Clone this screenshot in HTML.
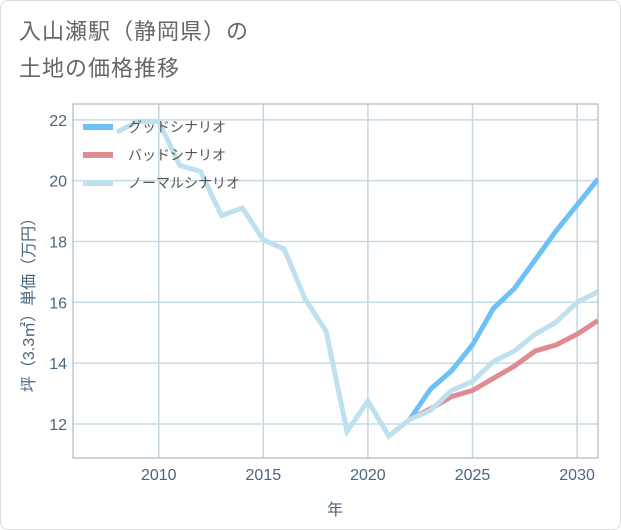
<!DOCTYPE html>
<html><head><meta charset="utf-8"><style>
body{margin:0;background:#fff;}
#card{position:absolute;left:0;top:0;width:619px;height:528px;border:1px solid #ddd;border-radius:8px;background:#fff;overflow:hidden;}
#title{position:absolute;left:18px;top:12px;font:22px "Liberation Sans","Noto Sans CJK JP",sans-serif;color:#666;line-height:37px;letter-spacing:1px;}
svg text{font-family:"Liberation Sans","Noto Sans CJK JP",sans-serif;}
</style></head><body>
<div id="card">
<div id="title">入山瀬駅（静岡県）の<br>土地の価格推移</div>
<svg id="chart" width="621" height="530" style="position:absolute;left:0;top:0"></svg>
</div>
<script>
const years=[2008,2009,2010,2011,2012,2013,2014,2015,2016,2017,2018,2019,2020,2021,2022,2023,2024,2025,2026,2027,2028,2029,2030,2031];
const normal=[21.6,21.95,21.95,20.5,20.3,18.85,19.1,18.05,17.75,16.1,15.05,11.75,12.75,11.6,12.15,12.45,13.1,13.4,14.05,14.4,14.95,15.35,16.0,16.35];
const futureYears=[2022,2023,2024,2025,2026,2027,2028,2029,2030,2031];
const good=[12.15,13.15,13.75,14.6,15.8,16.45,17.4,18.35,19.2,20.05];
const bad=[12.15,12.5,12.9,13.1,13.5,13.9,14.4,14.6,14.95,15.4];
const xTicks=[2010,2015,2020,2025,2030];
const yTicks=[12,14,16,18,20,22];
const legendLabels=["グッドシナリオ","バッドシナリオ","ノーマルシナリオ"];
const L=72,R=597,T=103,B=457,X0=2005.9,X1=2031,Y0=10.88,Y1=22.52;
const sx=v=>L+(v-X0)/(X1-X0)*(R-L);
const sy=v=>B-(v-Y0)/(Y1-Y0)*(B-T);
const svg=document.getElementById('chart');const NS='http://www.w3.org/2000/svg';
function mk(t,a,p){const e=document.createElementNS(NS,t);for(const k in a)e.setAttribute(k,a[k]);(p||svg).appendChild(e);return e;}
const clip=mk('clipPath',{id:'c'});mk('rect',{x:L,y:T,width:R-L,height:B-T},clip);
xTicks.forEach(v=>{const g=mk('line',{x1:sx(v),x2:sx(v),y1:T,y2:B,stroke:'#c5d5e2','stroke-width':1.5});


const t=mk('text',{x:sx(v),y:479,'text-anchor':'middle','font-size':16,fill:'#4a6580'});t.textContent=v;

});
yTicks.forEach(v=>{const g=mk('line',{x1:L,x2:R,y1:sy(v),y2:sy(v),stroke:'#c5dbe8','stroke-width':1.5});


const t=mk('text',{x:66,y:sy(v)+6,'text-anchor':'end','font-size':16,fill:'#4a6580'});t.textContent=v;

});
const fr=mk('rect',{x:L,y:T,width:R-L,height:B-T,fill:'none',stroke:'#aab8c4','stroke-width':1.2});


function line(xs,ys,col,name){const p=mk('polyline',{points:xs.map((x,i)=>sx(x)+','+sy(ys[i])).join(' '),fill:'none',stroke:col,'stroke-width':5,'stroke-linejoin':'miter','clip-path':'url(#c)'});

}
line(futureYears,good,'#6ec1f5','good-scenario-line');
line(futureYears,bad,'#e08a92','bad-scenario-line');
line(years,normal,'#bfe0ee','normal-scenario-line');
const cols=['#6ec1f5','#e08a92','#bfe0ee'];
legendLabels.forEach((s,i)=>{const y=126+i*28;
const l=mk('line',{x1:82,x2:112,y1:y,y2:y,stroke:cols[i],'stroke-width':6});


const t=mk('text',{x:127,y:y+5,'font-size':14,fill:'#555'});t.textContent=s;

});
const xt=mk('text',{x:334,y:514,'text-anchor':'middle','font-size':16,fill:'#4a6580'});xt.textContent='年';


const yt=mk('text',{x:0,y:0,'text-anchor':'middle','font-size':16,fill:'#4a6580',transform:'translate(33,300) rotate(-90)'});yt.textContent='坪（3.3㎡）単価（万円）';


</script>
</body></html>
